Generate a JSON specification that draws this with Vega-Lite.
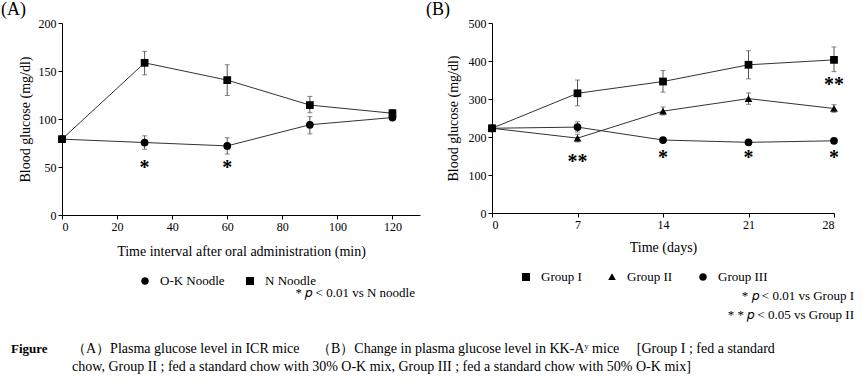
{
  "$schema": "https://vega.github.io/schema/vega-lite/v6.json",
  "padding": {"left": 1, "top": 1, "right": 0, "bottom": 0},
  "config": {
    "font": "Liberation Serif",
    "view": {"stroke": null},
    "axis": {"grid": false, "domainColor": "#000", "tickColor": "#000", "labelColor": "#000", "titleColor": "#000", "labelFontSize": 12, "titleFontSize": 14, "titleFontWeight": "normal", "tickSize": 4, "labelPadding": 2, "domainWidth": 1, "tickWidth": 1, "labelFont": "Liberation Serif", "titleFont": "Liberation Serif", "labelOverlap": false},
    "legend": {"labelFont": "Liberation Serif", "labelFontSize": 13, "labelColor": "#000", "padding": 0},
    "title": {"font": "Liberation Serif", "fontWeight": "normal", "color": "#000"},
    "text": {"font": "Liberation Serif", "color": "#000"}
  },
  "datasets": {
    "A": [
      {"series": "O-K Noodle", "x": 0, "y": 79},
      {"series": "O-K Noodle", "x": 30, "y": 75.5, "lo": 68.5, "hi": 82.5},
      {"series": "O-K Noodle", "x": 60, "y": 72, "lo": 63.5, "hi": 80.5},
      {"series": "O-K Noodle", "x": 90, "y": 94, "lo": 84.5, "hi": 102.5},
      {"series": "O-K Noodle", "x": 120, "y": 101.5, "lo": 99, "hi": 104},
      {"series": "N Noodle", "x": 0, "y": 79},
      {"series": "N Noodle", "x": 30, "y": 158.5, "lo": 146, "hi": 170.5},
      {"series": "N Noodle", "x": 60, "y": 140.5, "lo": 124.5, "hi": 156.5},
      {"series": "N Noodle", "x": 90, "y": 114.5, "lo": 106.5, "hi": 123.5},
      {"series": "N Noodle", "x": 120, "y": 106, "lo": 102, "hi": 110}
    ],
    "B": [
      {"series": "Group I", "x": 0, "y": 223},
      {"series": "Group I", "x": 7, "y": 315, "lo": 282, "hi": 350},
      {"series": "Group I", "x": 14, "y": 346, "lo": 318, "hi": 375},
      {"series": "Group I", "x": 21, "y": 390, "lo": 353, "hi": 427},
      {"series": "Group I", "x": 28, "y": 403, "lo": 372, "hi": 437},
      {"series": "Group II", "x": 0, "y": 223},
      {"series": "Group II", "x": 7, "y": 197, "lo": 187, "hi": 207},
      {"series": "Group II", "x": 14, "y": 268, "lo": 258, "hi": 279},
      {"series": "Group II", "x": 21, "y": 301, "lo": 286, "hi": 316},
      {"series": "Group II", "x": 28, "y": 275, "lo": 265, "hi": 285},
      {"series": "Group III", "x": 0, "y": 223},
      {"series": "Group III", "x": 7, "y": 226, "lo": 213, "hi": 240},
      {"series": "Group III", "x": 14, "y": 192, "lo": 187, "hi": 197},
      {"series": "Group III", "x": 21, "y": 186, "lo": 182, "hi": 190},
      {"series": "Group III", "x": 28, "y": 190, "lo": 186, "hi": 194}
    ],
    "starsA": [
      {"x": 30, "y": 49, "t": "*"},
      {"x": 60, "y": 49, "t": "*"}
    ],
    "starsB": [
      {"x": 7, "y": 134, "t": "**"},
      {"x": 14, "y": 145, "t": "*"},
      {"x": 21, "y": 145, "t": "*"},
      {"x": 28, "y": 145, "t": "*"},
      {"x": 28, "y": 336, "t": "**"}
    ],
    "caption": [
      {"col": "label", "line": 1, "text": "Figure"},
      {"col": "body", "line": 1, "text": "（A）Plasma glucose level in ICR mice　 （B）Change in plasma glucose level in KK-Aʸ mice　 [Group I ; fed a standard"},
      {"col": "body", "line": 2, "text": "chow,  Group II ; fed a standard chow with 30% O-K mix,  Group III ; fed a standard chow with 50% O-K mix]"}
    ]
  },
  "vconcat": [
    {
      "spacing": 6,
      "resolve": {"scale": {"shape": "independent"}, "legend": {"shape": "independent"}},
      "hconcat": [
        {
          "title": {"text": "* 𝑝 < 0.01 vs N noodle", "orient": "bottom", "anchor": "end", "fontSize": 13, "offset": -1, "dx": -5},
          "vconcat": [
            {
              "width": 358,
              "height": 192,
              "title": {"text": "(A)", "anchor": "start", "frame": "group", "dx": -61, "fontSize": 18, "offset": -2},
              "resolve": {"scale": {"shape": "independent"}, "legend": {"shape": "independent"}},
              "layer": [
                {
                  "data": {"name": "A"},
                  "mark": {"type": "rule", "color": "#555", "strokeWidth": 1},
                  "encoding": {
                    "x": {"field": "x", "type": "quantitative", "scale": {"domain": [0, 130], "nice": false}, "axis": {"values": [0, 20, 40, 60, 80, 100, 120], "title": "Time interval after oral administration (min)", "titlePadding": 12}},
                    "y": {"field": "lo", "type": "quantitative", "scale": {"domain": [0, 200], "nice": false}, "axis": {"values": [0, 50, 100, 150, 200], "tickCount": 5, "labelOverlap": false, "title": "Blood glucose (mg/dl)", "titlePadding": 6}},
                    "y2": {"field": "hi"}
                  }
                },
                {
                  "data": {"name": "A"},
                  "mark": {"type": "tick", "orient": "horizontal", "color": "#555", "size": 5, "thickness": 1},
                  "encoding": {"x": {"field": "x", "type": "quantitative"}, "y": {"field": "lo", "type": "quantitative"}}
                },
                {
                  "data": {"name": "A"},
                  "mark": {"type": "tick", "orient": "horizontal", "color": "#555", "size": 5, "thickness": 1},
                  "encoding": {"x": {"field": "x", "type": "quantitative"}, "y": {"field": "hi", "type": "quantitative"}}
                },
                {
                  "data": {"name": "A"},
                  "mark": {"type": "line", "color": "#333", "strokeWidth": 1},
                  "encoding": {"x": {"field": "x", "type": "quantitative"}, "y": {"field": "y", "type": "quantitative"}, "detail": {"field": "series"}}
                },
                {
                  "data": {"name": "A"},
                  "mark": {"type": "point", "filled": true, "opacity": 1, "color": "#000", "size": 60},
                  "encoding": {
                    "x": {"field": "x", "type": "quantitative"},
                    "y": {"field": "y", "type": "quantitative"},
                    "shape": {"field": "series", "type": "nominal", "scale": {"domain": ["O-K Noodle", "N Noodle"], "range": ["circle", "square"]}, "legend": null}
                  }
                },
                {
                  "data": {"name": "A"},
                  "transform": [{"filter": "false"}],
                  "mark": {"type": "point", "fill": "#000", "stroke": "#000", "strokeWidth": 1, "opacity": 1},
                  "encoding": {
                    "shape": {"field": "series", "type": "nominal",
                      "scale": {"domain": ["O-K Noodle", "N Noodle"], "range": ["M-1,0L-0.33,0M0.33,0L1,0M0.33,0A0.33,0.33,0,1,1,-0.33,0A0.33,0.33,0,1,1,0.33,0Z", "M-1,0L-0.35,0M0.35,0L1,0M-0.35,-0.35L0.35,-0.35L0.35,0.35L-0.35,0.35Z"]},
                      "legend": {"orient": "none", "legendX": 71, "legendY": 246, "direction": "horizontal", "title": null, "symbolSize": 529, "labelOffset": 3, "columnPadding": 11, "symbolStrokeWidth": 1, "symbolFillColor": "#000", "symbolStrokeColor": "#000"}
                    }
                  }
                },
                {
                  "data": {"name": "starsA"},
                  "mark": {"type": "text", "fontSize": 20, "fontWeight": "bold", "baseline": "middle", "align": "center"},
                  "encoding": {"x": {"field": "x", "type": "quantitative"}, "y": {"field": "y", "type": "quantitative"}, "text": {"field": "t"}}
                }
              ]
            }
          ]
        },
        {
          "title": {"text": ["* 𝑝 < 0.01 vs Group I", "* * 𝑝 < 0.05 vs Group II"], "orient": "bottom", "anchor": "end", "fontSize": 13, "offset": 6, "dx": 10, "lineHeight": 18.5},
          "vconcat": [
            {
              "width": 342,
              "height": 190,
              "title": {"text": "(B)", "anchor": "start", "frame": "group", "dx": -66, "fontSize": 18, "offset": -2},
              "resolve": {"scale": {"shape": "independent"}, "legend": {"shape": "independent"}},
              "layer": [
                {
                  "data": {"name": "B"},
                  "mark": {"type": "rule", "color": "#555", "strokeWidth": 1},
                  "encoding": {
                    "x": {"field": "x", "type": "quantitative", "scale": {"domain": [0, 28], "nice": false}, "axis": {"values": [0, 7, 14, 21, 28], "title": "Time (days)", "titlePadding": 10}},
                    "y": {"field": "lo", "type": "quantitative", "scale": {"domain": [0, 500], "nice": false}, "axis": {"values": [0, 100, 200, 300, 400, 500], "tickCount": 6, "labelOverlap": false, "title": "Blood glucose (mg/dl)", "titlePadding": 8}},
                    "y2": {"field": "hi"}
                  }
                },
                {
                  "data": {"name": "B"},
                  "mark": {"type": "tick", "orient": "horizontal", "color": "#555", "size": 5, "thickness": 1},
                  "encoding": {"x": {"field": "x", "type": "quantitative"}, "y": {"field": "lo", "type": "quantitative"}}
                },
                {
                  "data": {"name": "B"},
                  "mark": {"type": "tick", "orient": "horizontal", "color": "#555", "size": 5, "thickness": 1},
                  "encoding": {"x": {"field": "x", "type": "quantitative"}, "y": {"field": "hi", "type": "quantitative"}}
                },
                {
                  "data": {"name": "B"},
                  "mark": {"type": "line", "color": "#333", "strokeWidth": 1},
                  "encoding": {"x": {"field": "x", "type": "quantitative"}, "y": {"field": "y", "type": "quantitative"}, "detail": {"field": "series"}}
                },
                {
                  "data": {"name": "B"},
                  "mark": {"type": "point", "filled": true, "opacity": 1, "color": "#000", "size": 60},
                  "encoding": {
                    "x": {"field": "x", "type": "quantitative"},
                    "y": {"field": "y", "type": "quantitative"},
                    "shape": {"field": "series", "type": "nominal", "scale": {"domain": ["Group I", "Group II", "Group III"], "range": ["square", "triangle-up", "circle"]}, "legend": null}
                  }
                },
                {
                  "data": {"name": "B"},
                  "transform": [{"filter": "false"}],
                  "mark": {"type": "point", "fill": "#000", "stroke": "#000", "strokeWidth": 1, "opacity": 1},
                  "encoding": {
                    "shape": {"field": "series", "type": "nominal",
                      "scale": {"domain": ["Group I", "Group II", "Group III"], "range": ["M-1,0L-0.35,0M0.35,0L1,0M-0.35,-0.35L0.35,-0.35L0.35,0.35L-0.35,0.35Z", "M-1,0L-0.33,0M0.33,0L1,0M0,-0.33L0.33,0.25L-0.33,0.25Z", "M-1,0L-0.33,0M0.33,0L1,0M0.33,0A0.33,0.33,0,1,1,-0.33,0A0.33,0.33,0,1,1,0.33,0Z"]},
                      "legend": {"orient": "none", "legendX": 22, "legendY": 242, "direction": "horizontal", "title": null, "symbolSize": 529, "labelOffset": 3, "columnPadding": 16, "symbolStrokeWidth": 1, "symbolFillColor": "#000", "symbolStrokeColor": "#000"}
                    }
                  }
                },
                {
                  "data": {"name": "starsB"},
                  "mark": {"type": "text", "fontSize": 20, "fontWeight": "bold", "baseline": "middle", "align": "center"},
                  "encoding": {"x": {"field": "x", "type": "quantitative"}, "y": {"field": "y", "type": "quantitative"}, "text": {"field": "t"}}
                }
              ]
            }
          ]
        }
      ]
    },
    {
      "width": 800,
      "height": 30,
      "data": {"name": "caption"},
      "encoding": {
        "x": {"field": "col", "type": "nominal", "scale": {"domain": ["label", "body"], "range": [-51, 10], "padding": 0}, "axis": null},
        "y": {"field": "line", "type": "ordinal", "scale": {"domain": [1, 2], "range": [2, 20], "padding": 0}, "axis": null},
        "text": {"field": "text"}
      },
      "layer": [
        {"transform": [{"filter": "datum.col === 'label'"}], "mark": {"type": "text", "align": "left", "baseline": "middle", "fontSize": 13, "fontWeight": "bold"}},
        {"transform": [{"filter": "datum.col === 'body'"}], "mark": {"type": "text", "align": "left", "baseline": "middle", "fontSize": 14}}
      ]
    }
  ]
}
